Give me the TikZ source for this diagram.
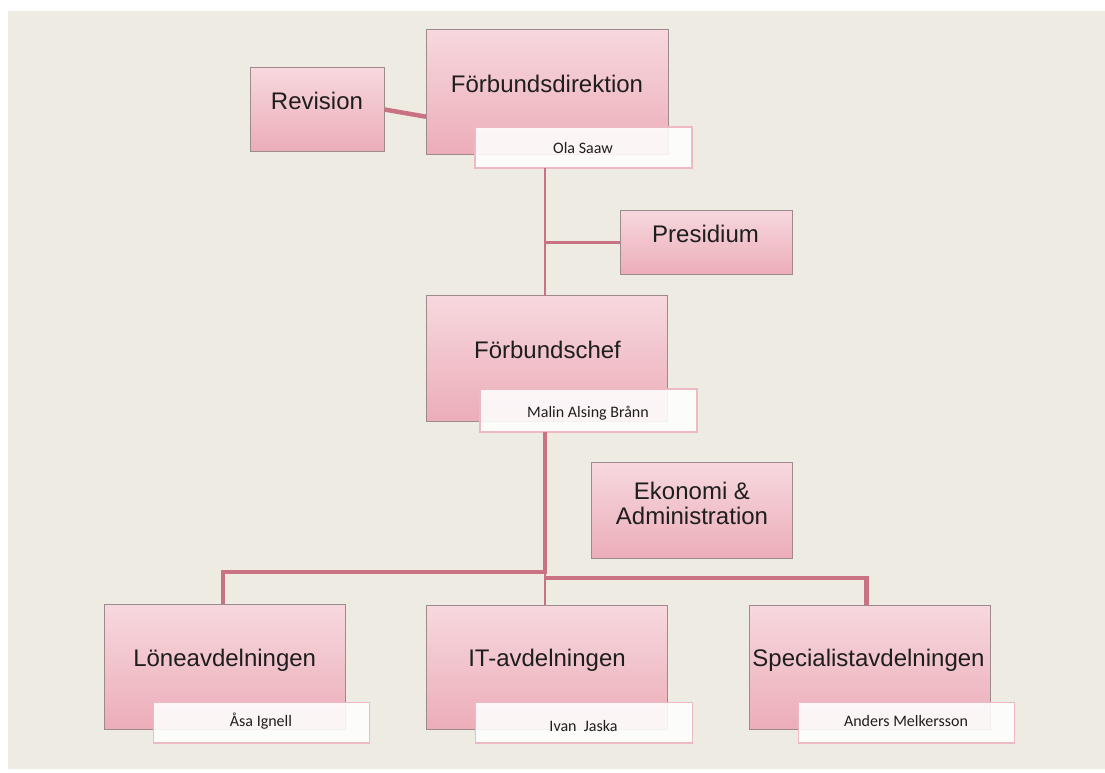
\documentclass[tikz,border=0pt]{standalone}
\usepackage{fontspec}
\setmainfont{Liberation Sans}
\newfontfamily\namefont{Carlito}
\definecolor{bgc}{HTML}{EEEBE3}
\definecolor{pinktop}{HTML}{F7D8DE}
\definecolor{pinkbot}{HTML}{ECADB8}
\definecolor{boxedge}{HTML}{9C8A8C}
\definecolor{wedge}{HTML}{EDB9C2}
\definecolor{conn}{HTML}{C87283}
\definecolor{txt}{HTML}{1E1E1E}
\begin{document}
\begin{tikzpicture}[x=1pt,y=-1pt,
  pbox/.style={draw=boxedge, line width=1pt, top color=pinktop, bottom color=pinkbot,
    minimum width=#1, inner sep=0pt, outer sep=0pt},
  wbox/.style={draw=wedge, line width=1.3pt, fill=white, fill opacity=0.88,
    minimum width=#1, minimum height=40.5pt, inner sep=0pt, outer sep=0pt},
  lbl/.style={anchor=base, inner sep=0pt, text=txt, font=\fontsize{24}{27}\selectfont},
  nlbl/.style={anchor=base, inner sep=0pt, text=txt, font=\namefont\fontsize{16}{18}\selectfont},
  wire/.style={draw=conn, line width=#1, line cap=butt, line join=miter}
]
\useasboundingbox (0,0) rectangle (1105,772);
\fill[white] (0,0) rectangle (1105,772);
\fill[bgc] (8,11) rectangle (1105,769);

\coordinate (trunk) at (545,0);
\coordinate (jl) at (545,572);
\coordinate (jr) at (545,578);
\coordinate (lx) at (223,0);
\coordinate (rx) at (866.5,0);

% boxes (pink)
\node[pbox=134pt, minimum height=84pt] (rev) at (317.5,109.5) {};
\node[pbox=242pt, minimum height=124.7pt] (dir) at (547,91.7) {};
\node[pbox=172.3pt, minimum height=64.3pt] (pres) at (706.2,242.2) {};
\node[pbox=241.3pt, minimum height=126pt] (chef) at (547.3,358.7) {};
\node[pbox=200.6pt, minimum height=96.3pt] (eko) at (692,510.8) {};
\node[pbox=240.7pt, minimum height=125pt] (lone) at (224.7,666.8) {};
\node[pbox=241.3pt, minimum height=124.3pt] (it) at (547.3,667.2) {};
\node[pbox=240.7pt, minimum height=124.3pt] (spec) at (869.7,667.2) {};

% connectors
\draw[wire=4.5pt] (rev.east) -- ([yshift=-25pt]dir.west);
\draw[wire=2.6pt] (pres.west) -- (pres.west -| trunk);
\draw[wire=4pt] (jl) -| (lone.north -| lx);
\draw[wire=4.2pt] (jr) -| (spec.north -| rx);
\draw[wire=2.2pt] (jl) -- (it.north -| trunk);

% white name boxes
\node[wbox=217pt, minimum height=41pt] (ola) at (583.5,147.5) {};
\node[wbox=217pt, minimum height=43pt] (malin) at (588.5,410.5) {};
\node[wbox=216pt] (asa) at (261.3,722.8) {};
\node[wbox=217.4pt] (ivan) at (584,722.8) {};
\node[wbox=216pt] (anders) at (906.3,722.8) {};

\draw[wire=2.6pt] (ola.south -| trunk) -- (chef.north -| trunk);
\draw[wire=4pt] (malin.south -| trunk) -- ([yshift=-2pt]jl);

% labels
\node[lbl] (trev) at (317,109) {Revision};
\node[lbl] (tdir) at (547,92) {Förbundsdirektion};
\node[lbl] (tpres) at (705.5,242) {Presidium};
\node[lbl] (tchef) at (547.5,358) {Förbundschef};
\node[lbl] (teko1) at (692,499) {Ekonomi \&};
\node[lbl] (teko2) at (692,524) {Administration};
\node[lbl] (tlone) at (224.7,666) {Löneavdelningen};
\node[lbl] (tit) at (547,666) {IT-avdelningen};
\node[lbl] (tspec) at (868.5,666) {Specialistavdelningen};

\node[nlbl] (tola) at (583,153) {Ola Saaw};
\node[nlbl] (tmalin) at (588,417) {Malin Alsing Brånn};
\node[nlbl] (tasa) at (261,726.5) {Åsa Ignell};
\node[nlbl] (tivan) at (583.5,731.5) {Ivan\ \ Jaska};
\node[nlbl] (tanders) at (906,726.5) {Anders Melkersson};
\end{tikzpicture}
\end{document}
